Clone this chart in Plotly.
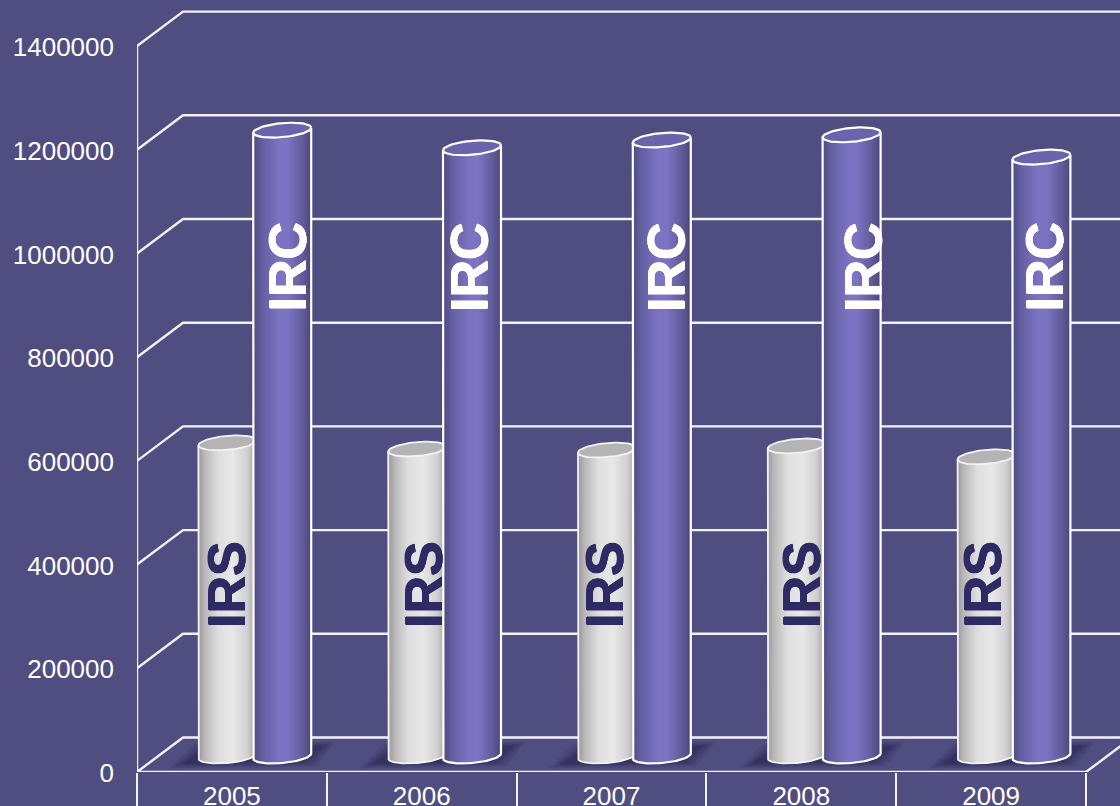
import math
import plotly.graph_objects as go

# ---- data ----
years = ["2005", "2006", "2007", "2008", "2009"]
irs_values = [604000, 592000, 590000, 598000, 577000]
irc_values = [1207000, 1173000, 1188000, 1198000, 1155000]
y_ticks = [0, 200000, 400000, 600000, 800000, 1000000, 1200000, 1400000]

# ---- styling / projection constants ----
W, H = 1120, 806
ML, MB = 137, 34
PX_X = 189.8                # pixels per category
PX_Y = 103.7 / 200000       # pixels per value unit
BG = "#504D80"
GRID = "#F2F2F8"
DEPTH_X = 46 / PX_X         # back wall shift
DEPTH_Y = 34.5 / PX_Y
MID_Y = 16 / PX_Y           # cylinders stand on the middle of the floor
R = 29 / PX_X               # cylinder half width
B = 7 / PX_Y                # ellipse half height
TILT = 2.5 / PX_Y           # ellipse tilt
IRS_DX = -4.5 / PX_X
IRC_DX = 50.3 / PX_X
N = 58
x_range = [-0.5, -0.5 + (W - ML) / PX_X]
y_range = [0, (H - MB) / PX_Y]

def lerp(stops, t):
    for (t0, c0), (t1, c1) in zip(stops, stops[1:]):
        if t <= t1:
            f = (t - t0) / (t1 - t0)
            return "rgb(%d,%d,%d)" % tuple(round(a + (b - a) * f) for a, b in zip(c0, c1))
    return "rgb(%d,%d,%d)" % stops[-1][1]

IRS_STOPS = [(0, (150, 150, 150)), (0.12, (185, 185, 185)), (0.35, (222, 222, 222)), (0.6, (232, 232, 232)),
             (0.85, (208, 208, 208)), (1, (160, 160, 160))]
IRC_STOPS = [(0, (78, 74, 124)), (0.15, (100, 94, 160)), (0.45, (124, 115, 195)), (0.6, (124, 115, 195)),
             (0.85, (98, 92, 156)), (1, (76, 72, 120))]

fig = go.Figure()

# ---- wall and floor grid ----
for v in y_ticks:
    fig.add_trace(go.Scatter(
        x=[x_range[0], x_range[0] + DEPTH_X, x_range[1] + 1],
        y=[v, v + DEPTH_Y, v + DEPTH_Y], mode="lines",
        line=dict(color=GRID, width=2.4), hoverinfo="skip", showlegend=False,
        cliponaxis=True, zorder=0))
# left axis line, front floor line, right floor diagonal
fig.add_trace(go.Scatter(x=[x_range[0], x_range[0]], y=[y_ticks[0], y_ticks[-1]], mode="lines",
                         line=dict(color=GRID, width=2.4), hoverinfo="skip", showlegend=False,
                         cliponaxis=False, zorder=0))
fig.add_trace(go.Scatter(x=[x_range[0], len(years) - 0.5, len(years) - 0.5 + DEPTH_X], y=[0, 0, DEPTH_Y],
                         mode="lines", line=dict(color=GRID, width=2.4), hoverinfo="skip",
                         showlegend=False, cliponaxis=False, zorder=0))

# ---- soft shadows on the floor ----
for grow, op in [(12, 0.2), (8, 0.25), (4, 0.35), (0, 0.5)]:
    for i in range(len(years)):
        g = grow / PX_X
        gy = grow * 0.35 / PX_Y
        xs = [i - 50 / PX_X - g, i - 26 / PX_X - g, i + 92 / PX_X + g, i + 72 / PX_X + g]
        ys = [8 / PX_Y - gy, 24 / PX_Y + gy, 26 / PX_Y + gy, 10 / PX_Y - gy]
        fig.add_trace(go.Scatter(x=xs + xs[:1], y=ys + ys[:1], mode="lines", fill="toself",
                                 fillcolor="rgba(48,44,88,%g)" % op, line=dict(width=0),
                                 hoverinfo="skip", showlegend=False, zorder=1))

def cylinder(values, dx, stops, top_fill, edge, edge_w, z):
    xs, ys, bases, offs, cols = [], [], [], [], []
    for i, v in enumerate(values):
        for k in range(N):
            u = (k + 0.5) / N * 2 - 1
            curve = B * math.sqrt(max(0, 1 - u * u))
            base = MID_Y - curve + TILT * u
            top = v + MID_Y + TILT * u
            xs.append(i)
            bases.append(base)
            ys.append(top - base)
            offs.append(dx + u * R - R / N)
            cols.append(lerp(stops, (u + 1) / 2))
    fig.add_trace(go.Bar(x=xs, y=ys, base=bases, offset=offs, width=[2.4 * R / N] * len(xs),
                         marker=dict(color=cols, line=dict(width=0)), hoverinfo="skip",
                         showlegend=False, zorder=z))
    # outlines and top ellipses
    lx, ly = [], []
    for i, v in enumerate(values):
        cx = i + dx
        tx, ty = [], []
        for k in range(73):
            t = 2 * math.pi * k / 72
            tx.append(cx + R * math.cos(t))
            ty.append(v + MID_Y + B * math.sin(t) + TILT * math.cos(t))
        fig.add_trace(go.Scatter(x=tx, y=ty, mode="lines", fill="toself", fillcolor=top_fill,
                                 line=dict(color=edge, width=edge_w), hoverinfo="skip",
                                 showlegend=False, zorder=z + 1))
        bx, by = [cx - R], [v + MID_Y - TILT]
        for k in range(37):
            t = math.pi + math.pi * k / 36
            bx.append(cx + R * math.cos(t))
            by.append(MID_Y + B * math.sin(t) + TILT * math.cos(t))
        bx.append(cx + R)
        by.append(v + MID_Y + TILT)
        lx += bx + [None]
        ly += by + [None]
    fig.add_trace(go.Scatter(x=lx, y=ly, mode="lines", line=dict(color=edge, width=edge_w),
                             hoverinfo="skip", showlegend=False, zorder=z + 1))

cylinder(irs_values, IRS_DX, IRS_STOPS, "#B4B4B4", "#F4F4F4", 1.8, 2)
cylinder(irc_values, IRC_DX, IRC_STOPS, "#6A64AC", "#FFFFFF", 2.2, 4)

# ---- rotated labels on the cylinders ----
irs_label_dx = [-5.4, 1.8, -7.0, 0.2, -8.6]
irc_label_dx = [55.6, 47.3, 54.5, 61.7, 53.4]
IRS_LABEL_Y = 361500
IRC_LABEL_Y = 974000
def heavy(c):
    return "0.5px 0 0 {0}, -0.5px 0 0 {0}, 0 0.5px 0 {0}, 0 -0.5px 0 {0}".format(c)
for i in range(len(years)):
    fig.add_annotation(x=i + irs_label_dx[i] / PX_X, y=IRS_LABEL_Y, text="<b>IRS</b>", textangle=-90,
                       showarrow=False, font=dict(family="Liberation Sans", size=52, color="#2E2A63",
                                                  shadow=heavy("#2E2A63")))
    fig.add_annotation(x=i + irc_label_dx[i] / PX_X, y=IRC_LABEL_Y, text="<b>IRC</b>", textangle=-90,
                       showarrow=False, font=dict(family="Liberation Sans", size=52, color="#FFFFFF",
                                                  shadow=heavy("#FFFFFF")))

fig.update_layout(
    width=W, height=H, autosize=False,
    margin=dict(l=ML, r=0, t=0, b=MB, pad=0, autoexpand=False),
    paper_bgcolor=BG, plot_bgcolor=BG, barmode="overlay", showlegend=False,
    font=dict(family="Liberation Sans", size=26, color="#FFFFFF"),
    xaxis=dict(range=x_range, tickmode="array", tickvals=list(range(len(years))), ticktext=years,
               showgrid=False, zeroline=False, showline=False, ticks="", ticklabelstandoff=6,
               automargin=False,
               minor=dict(tickmode="array", tickvals=[i - 0.5 for i in range(len(years) + 1)],
                          ticks="outside", ticklen=34, tickwidth=2.4, tickcolor=GRID, showgrid=False)),
    yaxis=dict(range=y_range, tickmode="array", tickvals=y_ticks, ticktext=[str(v) for v in y_ticks],
               showgrid=False, zeroline=False, showline=False, ticks="", ticklabelstandoff=22,
               ticklabelshift=1, automargin=False),
)

fig.write_html("out.html", config={"displayModeBar": False},
               post_script="document.body.style.margin='0';document.body.style.overflow='hidden';document.documentElement.style.background='%s';" % BG)
